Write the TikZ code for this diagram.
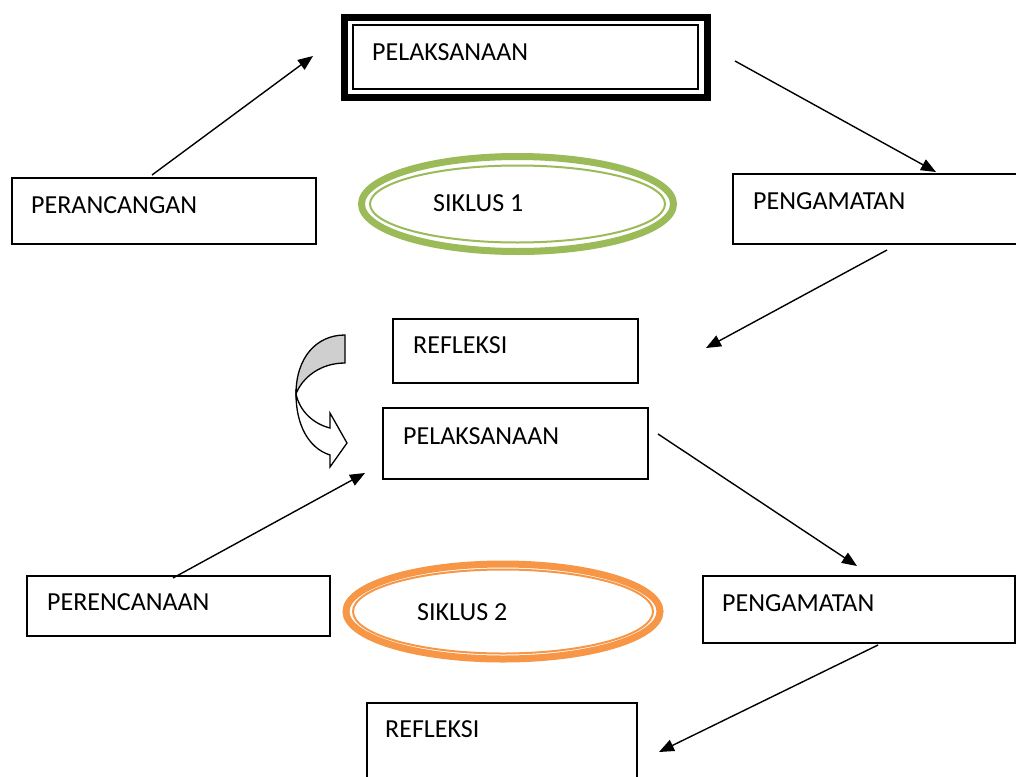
\documentclass[tikz,border=0pt]{standalone}
\usepackage{fontspec}
\setmainfont{Carlito}
\usetikzlibrary{arrows.meta,shapes.geometric}
\definecolor{siklusgreen}{HTML}{9BBB59}
\definecolor{siklusorange}{HTML}{F79646}
\begin{document}
\begin{tikzpicture}[x=1pt,y=-1pt,
  box/.style={draw, line width=1.5pt, inner sep=0pt},
  lbl/.style={anchor=base west, inner sep=0pt, font=\fontsize{26}{30}\selectfont},
  conn/.style={line width=1.4pt, -{Triangle[length=15pt,width=12pt]}},
  ringouter/.style={ellipse, draw, line width=7pt, inner sep=0pt},
  ringinner/.style={ellipse, draw, line width=2pt, inner sep=0pt}]
\useasboundingbox (0,0) rectangle (1016,776);
\clip (0,0) rectangle (1016,776);

% top box (double border)
\node[draw, line width=7pt, inner sep=0pt, minimum width=363pt, minimum height=80pt] (pel1) at (526,57.5) {};
\node[box, minimum width=345pt, minimum height=64pt] (pel1in) at (525.5,57) {};
\node[lbl] (tpel1) at (372,60) {PELAKSANAAN};

% siklus 1
\node[ringouter, draw=siklusgreen, minimum width=312pt, minimum height=95pt] (sik1) at (517.5,204) {};
\node[ringinner, draw=siklusgreen, minimum width=295pt, minimum height=77pt] (sik1in) at (517.5,204) {};
\node[lbl] (tsik1) at (433,211) {SIKLUS 1};

% boxes cycle 1
\node[box, minimum width=304pt, minimum height=66pt] (peran) at (164,211) {};
\node[lbl] (tperan) at (31,213) {PERANCANGAN};
\node[box, minimum width=297pt, minimum height=70pt] (peng1) at (881.5,209) {};
\node[lbl] (tpeng1) at (753,209) {PENGAMATAN};
\node[box, minimum width=245pt, minimum height=64pt] (ref1) at (515.5,351) {};
\node[lbl] (tref1) at (413,353) {REFLEKSI};

% boxes cycle 2
\node[box, minimum width=265pt, minimum height=71pt] (pel2) at (515.5,443.5) {};
\node[lbl] (tpel2) at (403,444) {PELAKSANAAN};
\node[box, minimum width=303pt, minimum height=60pt] (peren) at (178.5,606) {};
\node[lbl] (tperen) at (47,610) {PERENCANAAN};
\node[box, minimum width=312pt, minimum height=67pt] (peng2) at (859,609.5) {};
\node[lbl] (tpeng2) at (722,611) {PENGAMATAN};
\node[box, minimum width=270pt, minimum height=97pt] (ref2) at (502,751.5) {};
\node[lbl] (tref2) at (385,737) {REFLEKSI};

% siklus 2
\node[ringouter, draw=siklusorange, minimum width=314pt, minimum height=95pt] (sik2) at (503,611.5) {};
\node[ringinner, draw=siklusorange, minimum width=300pt, minimum height=84pt] (sik2in) at (503,611.5) {};
\node[lbl] (tsik2) at (417,620) {SIKLUS 2};

% connector end points
\coordinate (a1s) at (152,175);  \coordinate (a1e) at (313,56);
\coordinate (a2s) at (735,61);   \coordinate (a2e) at (936,172);
\coordinate (a3s) at (887,250);  \coordinate (a3e) at (706,348);
\coordinate (a4s) at (658,434);  \coordinate (a4e) at (857,566);
\coordinate (a5s) at (173,578);  \coordinate (a5e) at (365,473);
\coordinate (a6s) at (878,645);  \coordinate (a6e) at (659,752);

\draw[conn] (a1s) -- (a1e);
\draw[conn] (a2s) -- (a2e);
\draw[conn] (a3s) -- (a3e);
\draw[conn] (a4s) -- (a4e);
\draw[conn] (a5s) -- (a5e);
\draw[conn] (a6s) -- (a6e);

% curved arrow between the cycles
\draw[line width=1.3pt, line join=miter, fill=white]
  (296,394) .. controls (300,412) and (314,424) .. (330,428)
  -- (330,413) -- (347,443) -- (330,467) -- (330,455)
  .. controls (308,448) and (296,424) .. (296,394) -- cycle;
\draw[line width=1.3pt, fill=gray!38]
  (345,335) .. controls (316,335) and (296,358) .. (296,394)
  .. controls (302,378) and (320,363) .. (345,363) -- cycle;
\end{tikzpicture}
\end{document}
